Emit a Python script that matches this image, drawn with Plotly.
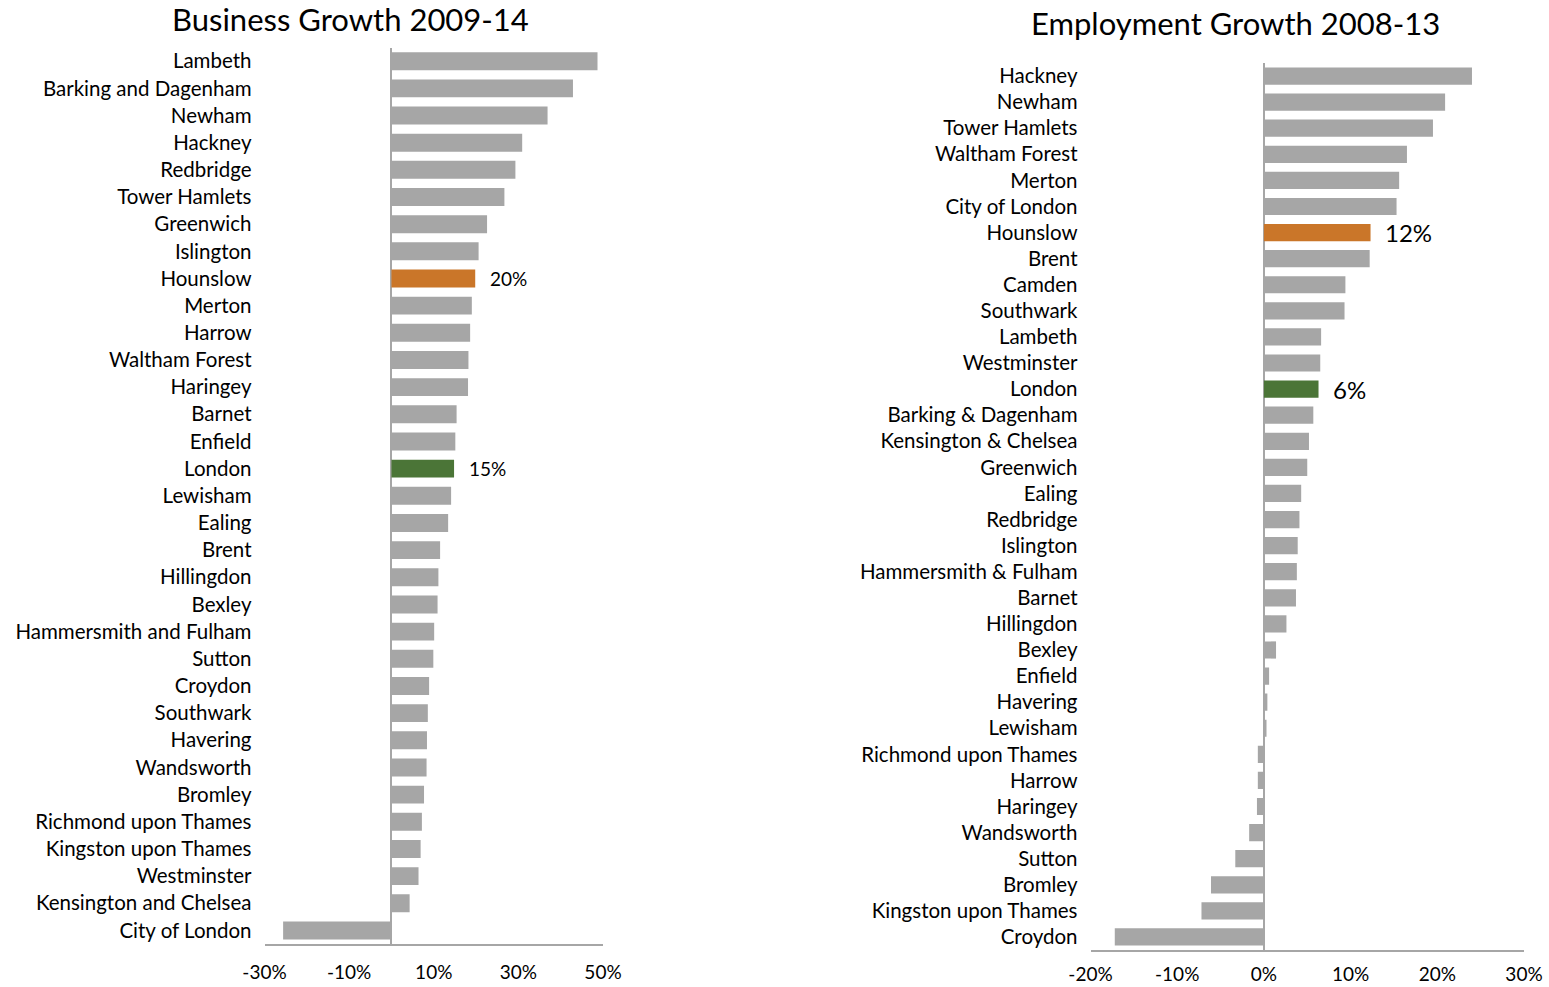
import plotly.graph_objects as go

# Business Growth 2009-14 (%), top to bottom
biz_names = ["Lambeth", "Barking and Dagenham", "Newham", "Hackney", "Redbridge",
             "Tower Hamlets", "Greenwich", "Islington", "Hounslow", "Merton", "Harrow",
             "Waltham Forest", "Haringey", "Barnet", "Enfield", "London", "Lewisham",
             "Ealing", "Brent", "Hillingdon", "Bexley", "Hammersmith and Fulham", "Sutton",
             "Croydon", "Southwark", "Havering", "Wandsworth", "Bromley",
             "Richmond upon Thames", "Kingston upon Thames", "Westminster",
             "Kensington and Chelsea", "City of London"]
biz_values = [48.7, 42.9, 36.9, 30.9, 29.3, 26.7, 22.6, 20.6, 19.8, 19.0, 18.6,
              18.2, 18.1, 15.4, 15.1, 14.8, 14.1, 13.4, 11.5, 11.1, 10.9, 10.1, 9.9,
              8.9, 8.6, 8.4, 8.3, 7.7, 7.2, 6.9, 6.4, 4.3, -25.6]
biz_ticks = [-30, -10, 10, 30, 50]
biz_ticktext = ["-30%", "-10%", "10%", "30%", "50%"]

# Employment Growth 2008-13 (%), top to bottom
emp_names = ["Hackney", "Newham", "Tower Hamlets", "Waltham Forest", "Merton",
             "City of London", "Hounslow", "Brent", "Camden", "Southwark", "Lambeth",
             "Westminster", "London", "Barking & Dagenham", "Kensington & Chelsea",
             "Greenwich", "Ealing", "Redbridge", "Islington", "Hammersmith & Fulham",
             "Barnet", "Hillingdon", "Bexley", "Enfield", "Havering", "Lewisham",
             "Richmond upon Thames", "Harrow", "Haringey", "Wandsworth", "Sutton",
             "Bromley", "Kingston upon Thames", "Croydon"]
emp_values = [24.0, 20.9, 19.5, 16.5, 15.6, 15.3, 12.3, 12.2, 9.4, 9.3, 6.6,
              6.5, 6.3, 5.7, 5.2, 5.0, 4.3, 4.1, 3.9, 3.8, 3.7, 2.6, 1.4, 0.6,
              0.4, 0.3, -0.7, -0.7, -0.8, -1.7, -3.3, -6.1, -7.2, -17.2]
emp_ticks = [-20, -10, 0, 10, 20, 30]
emp_ticktext = ["-20%", "-10%", "0%", "10%", "20%", "30%"]

biz_labels = {"Hounslow": "20%", "London": "15%"}
emp_labels = {"Hounslow": "12%", "London": "6%"}

GREY = "#A6A6A6"
ORANGE = "#CA7629"
GREEN = "#4B7537"
AXIS = "#A6A6A6"
FONT = "Lato"
W, H = 1549, 987


def colors(names):
    return [ORANGE if n == "Hounslow" else GREEN if n == "London" else GREY for n in names]


fig = go.Figure()
fig.add_trace(go.Bar(x=biz_values, y=biz_names, orientation="h",
                     marker=dict(color=colors(biz_names), line=dict(width=0)),
                     xaxis="x", yaxis="y", hoverinfo="x+y"))
fig.add_trace(go.Bar(x=emp_values, y=emp_names, orientation="h",
                     marker=dict(color=colors(emp_names), line=dict(width=0)),
                     xaxis="x2", yaxis="y2", hoverinfo="x+y"))

annotations = []
for n, t in biz_labels.items():
    v = biz_values[biz_names.index(n)]
    annotations.append(dict(x=v, y=n, xref="x", yref="y", text=t, showarrow=False,
                            xanchor="left", xshift=13, font=dict(size=19, color="#000")))
for n, t in emp_labels.items():
    v = emp_values[emp_names.index(n)]
    annotations.append(dict(x=v, y=n, xref="x2", yref="y2", text=t, showarrow=False,
                            xanchor="left", xshift=12, font=dict(size=24, color="#000")))

annotations.append(dict(x=350 / W, y=1 - 19 / H, xref="paper", yref="paper",
                        text="Business Growth 2009-14", showarrow=False,
                        xanchor="center", yanchor="middle", font=dict(size=31, color="#000")))
annotations.append(dict(x=1235 / W, y=1 - 23 / H, xref="paper", yref="paper",
                        text="Employment Growth 2008-13", showarrow=False,
                        xanchor="center", yanchor="middle", font=dict(size=31, color="#000")))

xcommon = dict(showgrid=False, zeroline=True, zerolinecolor=AXIS,
               zerolinewidth=2, showline=True, linecolor=AXIS, linewidth=1.5,
               ticks="", tickfont=dict(size=19, color="#000"), fixedrange=True,
               automargin=False, tickmode="array")
ycommon = dict(autorange="reversed", showgrid=False, zeroline=False, showline=False,
               ticks="", tickfont=dict(size=20.5, color="#000"), ticklabelstandoff=12,
               type="category", automargin=False, fixedrange=True)

fig.update_layout(
    width=W, height=H,
    margin=dict(l=0, r=0, t=0, b=0),
    paper_bgcolor="white", plot_bgcolor="white",
    font=dict(family=FONT, color="#000"),
    showlegend=False,
    bargap=0.34,
    xaxis=dict(domain=[264.5 / W, 603 / W], range=[-30, 50], ticklabelstandoff=10,
               tickvals=biz_ticks, ticktext=biz_ticktext, anchor="y", **xcommon),
    yaxis=dict(domain=[1 - 944 / H, 1 - 47.6 / H], anchor="x", **ycommon),
    xaxis2=dict(domain=[1090.5 / W, 1524 / W], range=[-20, 30], ticklabelstandoff=6,
                tickvals=emp_ticks, ticktext=emp_ticktext, anchor="y2", **xcommon),
    yaxis2=dict(domain=[1 - 950 / H, 1 - 63 / H], anchor="x2", **ycommon),
    annotations=annotations,
)

fig.write_html("out.html")
